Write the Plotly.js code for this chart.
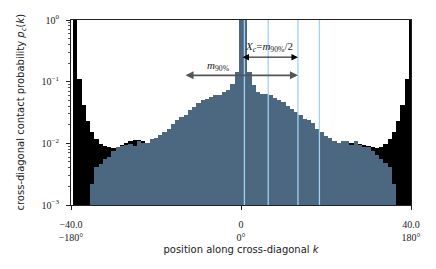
<!DOCTYPE html>
<html>
<head>
<meta charset="utf-8">
<script src="https://cdn.plot.ly/plotly-3.0.1.min.js"></script>
<style>html,body{margin:0;padding:0;background:#fff;}#chart{width:436px;height:269px;}</style>
</head>
<body>
<div id="chart"></div>
<script>
// position along cross-diagonal k (bin centres)
const blueStartK = -35;
const blueValues = [
  0.0022, 0.0042, 0.0046, 0.0055, 0.0061, 0.0075, 0.0088, 0.0091, 0.0093, 0.0096,
  0.0091, 0.0108, 0.0102, 0.0102, 0.0117, 0.0123, 0.0135, 0.0153, 0.0174, 0.0209,
  0.0237, 0.0268, 0.0285, 0.0344, 0.0389, 0.0451, 0.0499, 0.0520, 0.0565, 0.0600,
  0.0605, 0.0680, 0.0743, 0.0900, 0.145, 1.5, 1.5, 0.145, 0.087, 0.068,
  0.0624, 0.0620, 0.0600, 0.0544, 0.0499, 0.0460, 0.0404, 0.0357, 0.0323, 0.0285,
  0.0252, 0.0237, 0.0210, 0.0174, 0.0150, 0.0132, 0.0123, 0.0108, 0.0103, 0.0108,
  0.0108, 0.0093, 0.0108, 0.0093, 0.0088, 0.0088, 0.0075, 0.0065, 0.0056, 0.0048,
  0.0042, 0.0022
];
const blackStartK = -39;
const blackValues = [
  1.5, 0.112, 0.0425, 0.0228, 0.0153, 0.0117, 0.0099, 0.0090, 0.0088, 0.0083,
  0.0088, 0.0093, 0.0100, 0.0108, 0.0112, 0.0112, 0.0108, 0.0102,
  0.0117, 0.0123, 0.0135, 0.0153, 0.0174, 0.0209,
  0.0237, 0.0268, 0.0285, 0.0344, 0.0389, 0.0451, 0.0499, 0.0520, 0.0565, 0.0600,
  0.0605, 0.0680, 0.0743, 0.0900, 0.145, 1.5, 1.5, 0.145, 0.087, 0.068,
  0.0624, 0.0620, 0.0600, 0.0544, 0.0499, 0.0460, 0.0404, 0.0357, 0.0323, 0.0285,
  0.0252, 0.0237, 0.0210, 0.0174, 0.0150, 0.0132, 0.0123, 0.0108, 0.0103, 0.0108,
  0.0108, 0.0100, 0.0110, 0.0098, 0.0095, 0.0090, 0.0087, 0.0085, 0.0088, 0.0099,
  0.0117, 0.0153, 0.0228, 0.0425, 0.112, 1.5
];
const verticalLineK = [0.8, 6.4, 13.4, 18.45];
const m90 = 26.8;
const Xc = m90 / 2;
const xTickVals = [-40, 0, 40];
const xTickText = ['\u221240.0<br>\u2212180\u00b0', '0<br>0\u00b0', '40.0<br>180\u00b0'];
const yTickVals = [0.001, 0.01, 0.1, 1];
const yTickText = ['10<sup>\u22123</sup>', '10<sup>\u22122</sup>', '10<sup>\u22121</sup>', '10<sup>0</sup>'];

const blueK = blueValues.map((v, i) => blueStartK + i);
const blackK = blackValues.map((v, i) => blackStartK + i);
const minorVals = [];
[0.001, 0.01, 0.1].forEach(d => { for (let m = 2; m <= 9; m++) minorVals.push(d * m); });

const serif = 'Liberation Serif, DejaVu Serif, serif';
const sans = 'DejaVu Sans, sans-serif';

const traces = [
  {type: 'bar', x: blackK, y: blackValues, width: 1, marker: {color: '#000000', line: {width: 0}}, hoverinfo: 'skip'},
  {type: 'bar', x: blueK, y: blueValues, width: 1, marker: {color: '#4c6780', line: {width: 0}}, hoverinfo: 'skip'}
];

const shapes = verticalLineK.map(k => ({
  type: 'line', xref: 'x', yref: 'paper', x0: k, x1: k, y0: 0, y1: 1,
  line: {color: '#9fd2f7', width: 1.3}
}));

const yXc = Math.log10(0.25);
const yM = Math.log10(0.1265);
const annotations = [
  {xref: 'x', yref: 'y', axref: 'x', ayref: 'y', x: Xc, y: yXc, ax: 0, ay: yXc, text: '',
   showarrow: true, arrowhead: 2, arrowside: 'end+start', arrowsize: 1.3, arrowwidth: 1, arrowcolor: '#000', standoff: 0, startstandoff: 0},
  {xref: 'x', yref: 'y', axref: 'x', ayref: 'y', x: Xc, y: yM, ax: -Xc, ay: yM, text: '',
   showarrow: true, arrowhead: 2, arrowside: 'end+start', arrowsize: 1, arrowwidth: 1.6, arrowcolor: '#555', standoff: 0, startstandoff: 0},
  {xref: 'x', yref: 'y', x: Xc / 2, y: yXc, yanchor: 'bottom', xanchor: 'center', yshift: 1, showarrow: false,
   text: '<i>X</i><sub><i>c</i></sub>=<i>m</i><sub>90%</sub>/2', font: {family: serif, size: 11, color: '#222'}},
  {xref: 'x', yref: 'y', x: -m90 * 0.2, y: yM, yanchor: 'bottom', xanchor: 'center', yshift: 0, showarrow: false,
   text: '<i>m</i><sub>90%</sub>', font: {family: serif, size: 11, color: '#222'}},
  {xref: 'paper', yref: 'paper', x: -0.147, y: 0.5, xanchor: 'center', yanchor: 'middle', textangle: -90, showarrow: false,
   text: 'cross-diagonal contact probability <i>p</i><sub><i>c</i></sub>(<i>k</i>)', font: {family: sans, size: 10, color: '#222'}}
];

const layout = {
  width: 436, height: 269,
  margin: {l: 71, r: 25, t: 20, b: 64},
  paper_bgcolor: '#fff', plot_bgcolor: '#fff',
  barmode: 'overlay', bargap: 0,
  showlegend: false,
  xaxis: {
    range: [-40, 40], showgrid: false, zeroline: false,
    showline: true, mirror: true, linecolor: '#222', linewidth: 1,
    ticks: 'outside', ticklen: 4, tickwidth: 1, tickcolor: '#222',
    tickvals: xTickVals, ticktext: xTickText, ticklabelstandoff: 6,
    tickfont: {family: serif, size: 10, color: '#222'},
    title: {text: 'position along cross-diagonal <i>k</i>', font: {family: sans, size: 10, color: '#222'}, standoff: 3}
  },
  yaxis: {
    type: 'log', range: [-3, 0], showgrid: false, zeroline: false,
    showline: true, mirror: true, linecolor: '#222', linewidth: 1,
    ticks: 'outside', ticklen: 4, tickwidth: 1, tickcolor: '#222',
    tickvals: yTickVals, ticktext: yTickText, ticklabelstandoff: 5,
    tickfont: {family: serif, size: 10, color: '#222'},
    minor: {tickvals: minorVals, ticks: 'outside', ticklen: 2, tickwidth: 0.8, tickcolor: '#222', showgrid: false}
  },
  shapes: shapes,
  annotations: annotations
};

Plotly.newPlot('chart', traces, layout, {staticPlot: true, displayModeBar: false});
</script>
</body>
</html>
